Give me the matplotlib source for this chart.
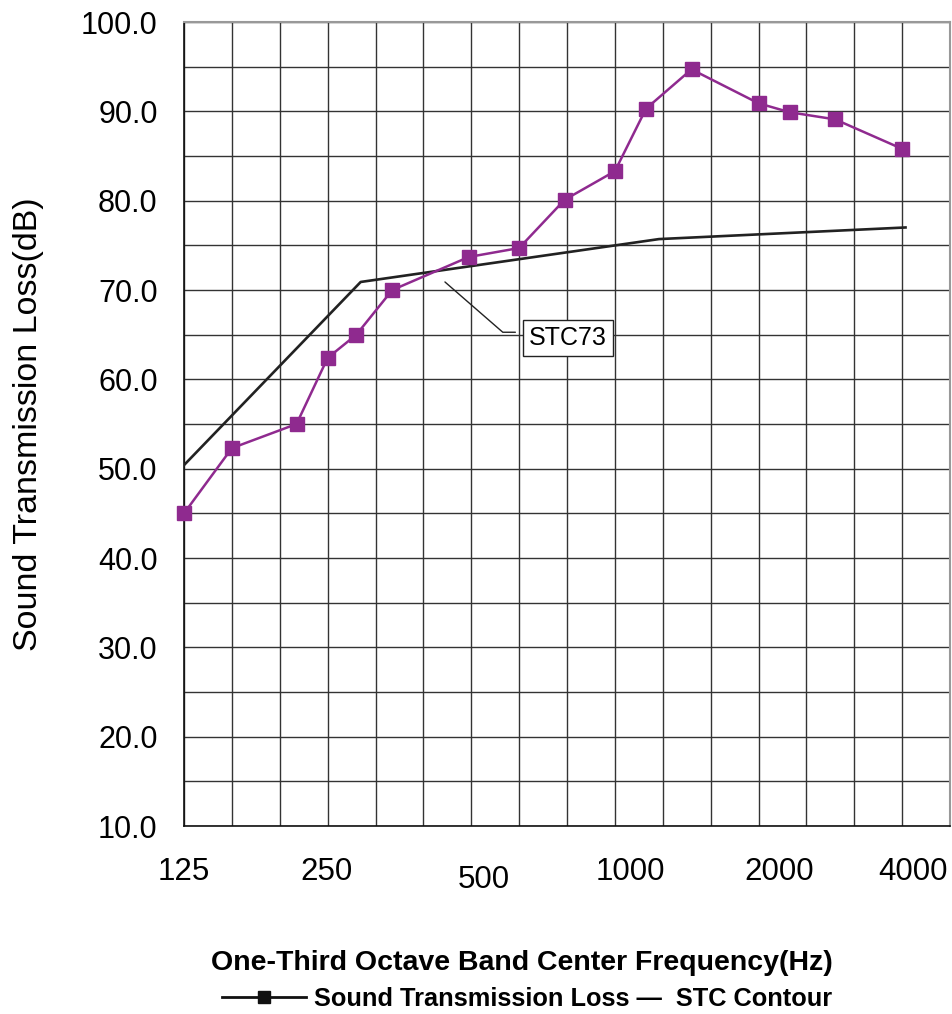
import matplotlib
matplotlib.use("Agg")
from matplotlib import pyplot as plt
from matplotlib.lines import Line2D

plt.rcParams['font.family'] = ['Liberation Sans', 'DejaVu Sans']

# One-third octave bands (labels) and where each point sits on the chart's band axis
bands = [125, 160, 200, 250, 315, 400, 500, 630, 800, 1000, 1250, 1600, 2000, 2500, 3150, 4000]
stl_x = [0, 1, 2.35, 3, 3.6, 4.35, 5.95, 7, 7.95, 9, 9.65, 10.6, 12, 12.65, 13.6, 15]
stl_db = [45.0, 52.3, 55.0, 62.4, 65.0, 70.0, 73.7, 74.7, 80.1, 83.3, 90.3, 94.7, 90.9, 89.9, 89.1, 85.8]

# STC 73 reference contour
stc_x = [0, 3.69, 9.92, 15.07]
stc_db = [50.4, 70.9, 75.7, 77.0]

tick_labels = ['125', '250', '500', '1000', '2000', '4000']
tick_x = [0, 2.98, 6.26, 9.33, 12.44, 15.22]

purple = '#8f2a8f'

fig = plt.figure(figsize=(9.53, 10.14), dpi=100)
ax = fig.add_axes([0.1931, 0.1854, 0.8038, 0.7929])

ax.plot(stc_x, stc_db, color='#222222', lw=1.9, zorder=3)
ax.plot(stl_x, stl_db, color=purple, lw=1.8, marker='s', markersize=10,
        markerfacecolor=purple, markeredgecolor=purple, zorder=4, clip_on=False)

ax.set_xlim(0, 16)
ax.set_ylim(10, 100)
ax.set_yticks(range(10, 101, 10))
ax.set_yticklabels(['%.1f' % v for v in range(10, 101, 10)], fontsize=22)
ax.set_yticks(range(15, 100, 10), minor=True)
ax.set_xticks(range(0, 16))
ax.set_xticklabels([])
ax.tick_params(axis='both', which='both', length=0)
ax.tick_params(axis='y', pad=19)
ax.grid(True, which='both', color='#333333', lw=1.0)
ax.set_axisbelow(True)

for s in ['top', 'right']:
    ax.spines[s].set_color('#999999')
    ax.spines[s].set_linewidth(1.5)
for s in ['left', 'bottom']:
    ax.spines[s].set_color('#111111')
    ax.spines[s].set_linewidth(1.2)

# frequency labels under the axis (the 500 label sits a bit lower)
for lab, xv in zip(tick_labels, tick_x):
    yoff = -0.067 if lab == '500' else -0.057
    ax.text(xv, yoff, lab, transform=ax.get_xaxis_transform(),
            ha='center', va='center', fontsize=22.5)

ax.set_ylabel('Sound Transmission Loss(dB)', fontsize=24.5)
ax.yaxis.set_label_coords(-0.183, 0.5)

ax.annotate('STC73', xy=(5.45, 70.9), xytext=(8.02, 64.6),
            ha='center', va='center', fontsize=18,
            bbox=dict(boxstyle='square,pad=0.25', fc='white', ec='#222222', lw=1.0),
            arrowprops=dict(arrowstyle='-', color='#222222', lw=1.0,
                            connectionstyle='angle,angleA=0,angleB=-41,rad=0',
                            relpos=(0, 0.75), shrinkA=5, shrinkB=0),
            zorder=5)

fig.text(0.5477, 0.0503, 'One-Third Octave Band Center Frequency(Hz)',
         ha='center', va='center', fontsize=20.5, fontweight='bold')

handle = Line2D([], [], color='#111111', lw=2, marker='s', markersize=9,
                markerfacecolor='#111111')
fig.legend([handle], ['Sound Transmission Loss \u2014  STC Contour'],
           loc='center', bbox_to_anchor=(0.553, 0.0148), frameon=False,
           prop={'size': 18.3, 'weight': 'bold'}, handlelength=3.3,
           handletextpad=0.3, borderaxespad=0, borderpad=0)

fig.savefig('out.png', dpi=100)
